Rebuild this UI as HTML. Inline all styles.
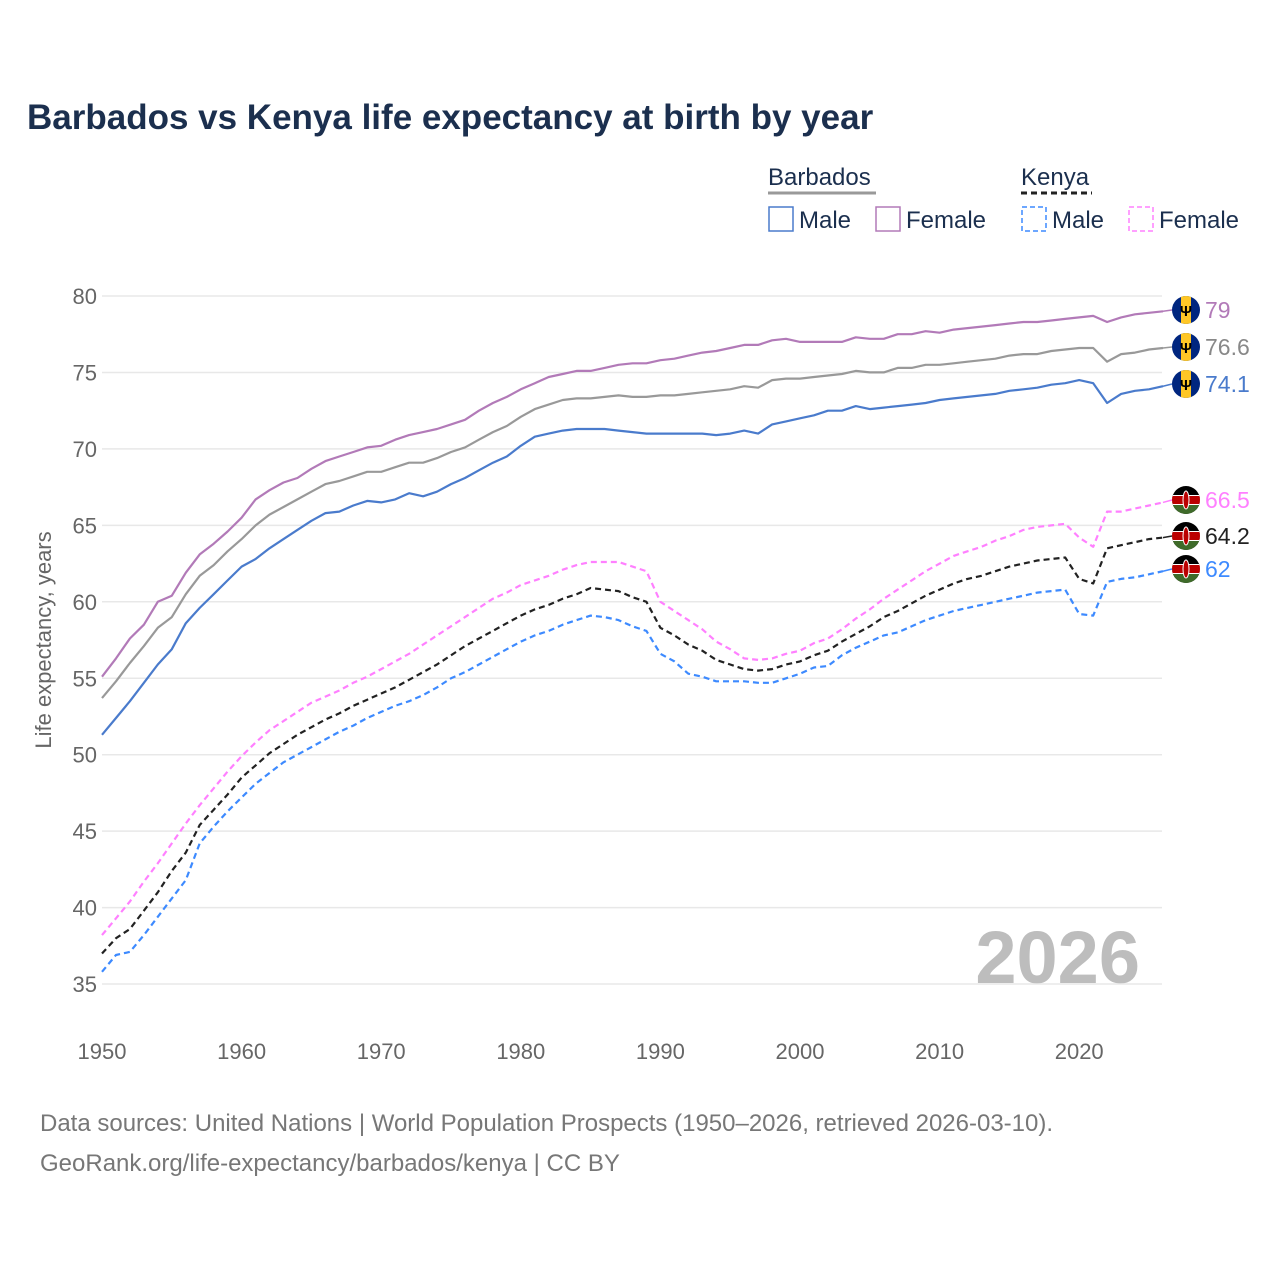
<!DOCTYPE html>
<html><head><meta charset="utf-8"><style>
body{margin:0;background:#fff;font-family:"Liberation Sans",sans-serif}
svg text{font-family:"Liberation Sans",sans-serif}
</style></head><body>
<svg id="c" width="1280" height="1280" xmlns="http://www.w3.org/2000/svg">
<defs><clipPath id="cc" clipPathUnits="objectBoundingBox"><circle cx="0.5" cy="0.5" r="0.5"/></clipPath></defs>
<text x="27" y="129" font-size="35" font-weight="bold" fill="#1b2f4e">Barbados vs Kenya life expectancy at birth by year</text>
<g>
<text x="768" y="185" font-size="24" fill="#1b2f4e">Barbados</text>
<line x1="768" y1="193" x2="876" y2="193" stroke="#999" stroke-width="3"/>
<text x="1021" y="185" font-size="24" fill="#1b2f4e">Kenya</text>
<line x1="1021" y1="193" x2="1092" y2="193" stroke="#222" stroke-width="3" stroke-dasharray="6,4"/>
<rect x="769" y="207" width="24" height="24" fill="none" stroke="#4a7bcc" stroke-width="1.5"/>
<text x="799" y="228" font-size="24" fill="#1b2f4e">Male</text>
<rect x="876" y="207" width="24" height="24" fill="none" stroke="#b27ab8" stroke-width="1.5"/>
<text x="906" y="228" font-size="24" fill="#1b2f4e">Female</text>
<rect x="1022" y="207" width="24" height="24" fill="none" stroke="#3d8aff" stroke-width="1.5" stroke-dasharray="5,3"/>
<text x="1052" y="228" font-size="24" fill="#1b2f4e">Male</text>
<rect x="1129" y="207" width="24" height="24" fill="none" stroke="#ff80ff" stroke-width="1.5" stroke-dasharray="5,3"/>
<text x="1159" y="228" font-size="24" fill="#1b2f4e">Female</text>
</g>
<text transform="translate(51,640) rotate(-90)" text-anchor="middle" font-size="22" fill="#666">Life expectancy, years</text>
<text x="1140" y="983" text-anchor="end" font-size="74" font-weight="bold" fill="#bdbdbd">2026</text>
<g id="grid"></g><g id="lines"></g><g id="ends"></g>
<text x="40" y="1131" font-size="24" fill="#777">Data sources: United Nations | World Population Prospects (1950–2026, retrieved 2026-03-10).</text>
<text x="40" y="1171" font-size="24" fill="#777">GeoRank.org/life-expectancy/barbados/kenya | CC BY</text>
</svg>
<script>
const startYear=1950;
const yTicks=[35,40,45,50,55,60,65,70,75,80];
const xTicks=[1950,1960,1970,1980,1990,2000,2010,2020];
const brbMale=[51.3,52.4,53.5,54.7,55.9,56.9,58.6,59.6,60.5,61.4,62.3,62.8,63.5,64.1,64.7,65.3,65.8,65.9,66.3,66.6,66.5,66.7,67.1,66.9,67.2,67.7,68.1,68.6,69.1,69.5,70.2,70.8,71.0,71.2,71.3,71.3,71.3,71.2,71.1,71.0,71.0,71.0,71.0,71.0,70.9,71.0,71.2,71.0,71.6,71.8,72.0,72.2,72.5,72.5,72.8,72.6,72.7,72.8,72.9,73.0,73.2,73.3,73.4,73.5,73.6,73.8,73.9,74.0,74.2,74.3,74.5,74.3,73.0,73.6,73.8,73.9,74.1];
const brbTotal=[53.7,54.8,56.0,57.1,58.3,59.0,60.5,61.7,62.4,63.3,64.1,65.0,65.7,66.2,66.7,67.2,67.7,67.9,68.2,68.5,68.5,68.8,69.1,69.1,69.4,69.8,70.1,70.6,71.1,71.5,72.1,72.6,72.9,73.2,73.3,73.3,73.4,73.5,73.4,73.4,73.5,73.5,73.6,73.7,73.8,73.9,74.1,74.0,74.5,74.6,74.6,74.7,74.8,74.9,75.1,75.0,75.0,75.3,75.3,75.5,75.5,75.6,75.7,75.8,75.9,76.1,76.2,76.2,76.4,76.5,76.6,76.6,75.7,76.2,76.3,76.5,76.6];
const brbFemale=[55.1,56.3,57.6,58.5,60.0,60.4,61.9,63.1,63.8,64.6,65.5,66.7,67.3,67.8,68.1,68.7,69.2,69.5,69.8,70.1,70.2,70.6,70.9,71.1,71.3,71.6,71.9,72.5,73.0,73.4,73.9,74.3,74.7,74.9,75.1,75.1,75.3,75.5,75.6,75.6,75.8,75.9,76.1,76.3,76.4,76.6,76.8,76.8,77.1,77.2,77.0,77.0,77.0,77.0,77.3,77.2,77.2,77.5,77.5,77.7,77.6,77.8,77.9,78.0,78.1,78.2,78.3,78.3,78.4,78.5,78.6,78.7,78.3,78.6,78.8,78.9,79.0];
const kenFemale=[38.2,39.3,40.4,41.7,42.9,44.2,45.5,46.7,47.8,48.9,49.9,50.8,51.6,52.2,52.8,53.4,53.8,54.2,54.7,55.1,55.6,56.1,56.6,57.2,57.8,58.4,59.0,59.6,60.2,60.6,61.1,61.4,61.7,62.1,62.4,62.6,62.6,62.6,62.3,62.0,60.0,59.4,58.8,58.2,57.4,56.9,56.3,56.2,56.3,56.6,56.8,57.3,57.6,58.2,58.9,59.5,60.2,60.8,61.4,62.0,62.5,63.0,63.3,63.6,64.0,64.3,64.7,64.9,65.0,65.1,64.2,63.6,65.9,65.9,66.1,66.3,66.5];
const kenTotal=[37.0,38.0,38.6,39.8,41.0,42.4,43.6,45.4,46.4,47.4,48.5,49.3,50.1,50.7,51.3,51.8,52.3,52.7,53.2,53.6,54.0,54.4,54.9,55.4,55.9,56.5,57.1,57.6,58.1,58.6,59.1,59.5,59.8,60.2,60.5,60.9,60.8,60.7,60.3,60.0,58.3,57.8,57.2,56.8,56.2,55.9,55.6,55.5,55.6,55.9,56.1,56.5,56.8,57.4,57.9,58.4,59.0,59.4,59.9,60.4,60.8,61.2,61.5,61.7,62.0,62.3,62.5,62.7,62.8,62.9,61.5,61.2,63.5,63.7,63.9,64.1,64.2];
const kenMale=[35.8,36.9,37.1,38.2,39.4,40.6,41.8,44.2,45.3,46.3,47.2,48.1,48.8,49.5,50.0,50.5,51.0,51.5,51.9,52.4,52.8,53.2,53.5,53.9,54.4,55.0,55.4,55.9,56.4,56.9,57.4,57.8,58.1,58.5,58.8,59.1,59.0,58.8,58.4,58.1,56.6,56.1,55.3,55.1,54.8,54.8,54.8,54.7,54.7,55.0,55.3,55.7,55.8,56.5,57.0,57.4,57.8,58.0,58.4,58.8,59.1,59.4,59.6,59.8,60.0,60.2,60.4,60.6,60.7,60.8,59.2,59.1,61.3,61.5,61.6,61.8,62.0];
const endLabels=["79","76.6","74.1","66.5","64.2","62"];

const NS="http://www.w3.org/2000/svg";
const X=yr=>102+(yr-1950)*13.96;
const Y=v=>296+(80-v)*15.29;
function mk(tag,attrs,parent){const e=document.createElementNS(NS,tag);for(const k in attrs)e.setAttribute(k,attrs[k]);parent.appendChild(e);return e;}
const grid=document.getElementById('grid'),lines=document.getElementById('lines'),ends=document.getElementById('ends');
yTicks.forEach(t=>{
  const l=mk('line',{x1:102,x2:1162,y1:Y(t),y2:Y(t),stroke:'#e8e8e8','stroke-width':1.5},grid);
  
  
  const tx=mk('text',{x:97,y:Y(t)+8,'text-anchor':'end','font-size':22,fill:'#666'},grid);
  tx.textContent=t;
  
  
});
xTicks.forEach(t=>{
  const tx=mk('text',{x:X(t),y:1059,'text-anchor':'middle','font-size':22,fill:'#666'},grid);
  tx.textContent=t;
  
  
});
const series=[
 {d:brbFemale,c:'#b27ab8',dash:null,n:'barbados-female-line',flag:'brb',lc:'#b27ab8'},
 {d:brbTotal,c:'#999',dash:null,n:'barbados-total-line',flag:'brb',lc:'#888'},
 {d:brbMale,c:'#4a7bcc',dash:null,n:'barbados-male-line',flag:'brb',lc:'#4a7bcc'},
 {d:kenFemale,c:'#ff80ff',dash:'6,4',n:'kenya-female-line',flag:'ken',lc:'#ff80ff'},
 {d:kenTotal,c:'#222',dash:'6,4',n:'kenya-total-line',flag:'ken',lc:'#222'},
 {d:kenMale,c:'#3d8aff',dash:'6,4',n:'kenya-male-line',flag:'ken',lc:'#3d8aff'}];
const labelY=[310,347,384,500,536,569];
series.forEach((s,i)=>{
  const pts=s.d.map((v,k)=>X(startYear+k).toFixed(1)+','+Y(v).toFixed(1)).join(' ');
  const a={points:pts,fill:'none',stroke:s.c,'stroke-width':2.2,'stroke-linejoin':'round'};
  if(s.dash)a['stroke-dasharray']=s.dash;
  const p=mk('polyline',a,lines);
  
  
  const last=s.d[s.d.length-1], ly=labelY[i];
  mk('line',{x1:X(startYear+s.d.length-1),y1:Y(last),x2:1172,y2:ly,stroke:s.c,'stroke-width':1.5},ends);
  const g=mk('g',{},ends);
  
  
  const cx=1186;
  const inner=mk('g',{'clip-path':'url(#cc)'},g);
  if(s.flag==='brb'){
    mk('rect',{x:cx-14,y:ly-14,width:28,height:28,fill:'#00267f'},inner);
    mk('rect',{x:cx-5,y:ly-14,width:10,height:28,fill:'#ffc726'},inner);
    const t=mk('text',{x:cx,y:ly+6,'text-anchor':'middle','font-size':15,'font-weight':'bold',fill:'#000'},g);t.textContent='Ψ';
  }else{
    mk('rect',{x:cx-14,y:ly-14,width:28,height:28,fill:'#000'},inner);
    mk('rect',{x:cx-14,y:ly-5,width:28,height:10,fill:'#fff'},inner);
    mk('rect',{x:cx-14,y:ly-4,width:28,height:8,fill:'#b00'},inner);
    mk('rect',{x:cx-14,y:ly+5,width:28,height:9,fill:'#3f6b2a'},inner);
    mk('ellipse',{cx:cx,cy:ly,rx:3,ry:9,fill:'#b00',stroke:'#fff','stroke-width':1},g);
  }
  const tx=mk('text',{x:1205,y:ly+8,'font-size':23,fill:s.lc},ends);
  tx.textContent=endLabels[i];
  
  
});
</script>
</body></html>
